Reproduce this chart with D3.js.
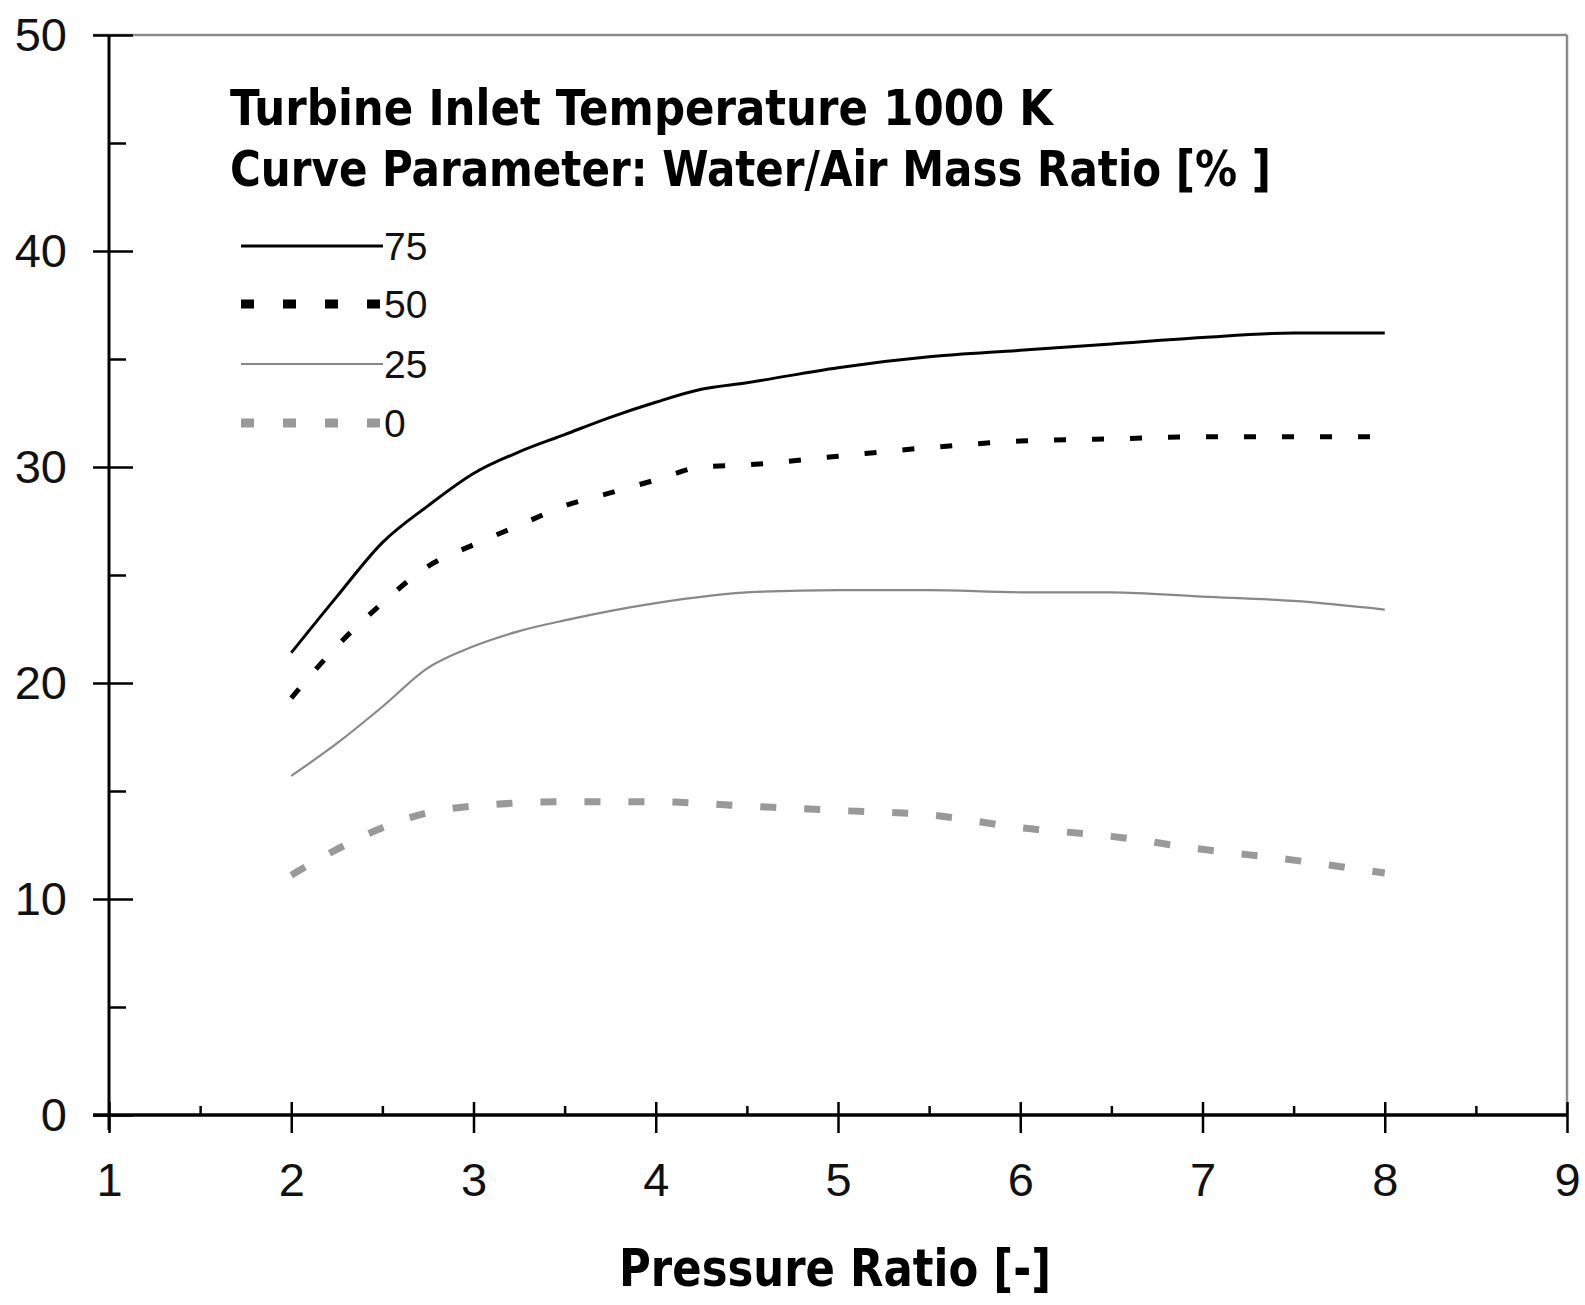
<!DOCTYPE html>
<html>
<head>
<meta charset="utf-8">
<script src="https://cdn.jsdelivr.net/npm/d3@7"></script>
<style>
  html, body { margin: 0; padding: 0; background: #fff; }
  svg { display: block; }
  text { font-family: "Liberation Sans", Arial, sans-serif; }
  .cond { font-family: "Liberation Sans Narrow", "Arial Narrow", "DejaVu Sans Condensed", "Liberation Sans", sans-serif; font-weight: bold; }
</style>
</head>
<body>
<script>
// ---- data ----
const xTicks = [1, 2, 3, 4, 5, 6, 7, 8, 9];
const yTicks = [0, 10, 20, 30, 40, 50];
const titleLines = ["Turbine Inlet Temperature 1000 K", "Curve Parameter: Water/Air Mass Ratio [% ]"];
const xTitle = "Pressure Ratio [-]";
const seriesNames = ["75", "50", "25", "0"];

const x75 = [2, 2.25, 2.5, 2.75, 3, 3.25, 3.5, 3.75, 4, 4.25, 4.5, 5, 5.5, 6, 6.5, 7, 7.5, 8];
const y75 = [21.4, 24.0, 26.5, 28.2, 29.7, 30.7, 31.5, 32.3, 33.0, 33.6, 33.9, 34.6, 35.1, 35.4, 35.7, 36.0, 36.2, 36.2];

const x50 = [2, 2.25, 2.5, 2.75, 3, 3.25, 3.5, 3.75, 4, 4.25, 4.5, 5, 5.5, 6, 6.5, 7, 8];
const y50 = [19.3, 21.7, 23.7, 25.4, 26.4, 27.3, 28.2, 28.8, 29.4, 30.0, 30.1, 30.5, 30.9, 31.2, 31.3, 31.4, 31.4];

const x25 = [2, 2.25, 2.5, 2.75, 3, 3.25, 3.5, 4, 4.5, 5, 5.5, 6, 6.5, 7, 7.5, 8];
const y25 = [15.7, 17.2, 18.9, 20.7, 21.7, 22.4, 22.9, 23.7, 24.2, 24.3, 24.3, 24.2, 24.2, 24.0, 23.8, 23.4];

const x0 = [2, 2.25, 2.5, 2.75, 3, 3.5, 4, 4.5, 5, 5.5, 6, 6.5, 7, 7.5, 8];
const y0 = [11.1, 12.3, 13.3, 14.0, 14.3, 14.5, 14.5, 14.3, 14.1, 13.9, 13.3, 12.9, 12.3, 11.8, 11.2];

// ---- layout ----
const W = 1585, H = 1305;
const mLeft = 109, mRight = 1567, mTop = 35, mBottom = 1115;

const svg = d3.select("body").append("svg").attr("width", W).attr("height", H);

const x = d3.scaleLinear().domain([1, 9]).range([mLeft, mRight]);
const y = d3.scaleLinear().domain([0, 50]).range([mBottom, mTop]);

// frame (top & right, gray)
svg.append("line").attr("x1", 93).attr("x2", mRight).attr("y1", mTop).attr("y2", mTop)
  .attr("stroke", "#8a8a8a").attr("stroke-width", 2.5);
svg.append("line").attr("x1", mRight).attr("x2", mRight).attr("y1", mTop).attr("y2", mBottom)
  .attr("stroke", "#8a8a8a").attr("stroke-width", 2.5);

// y axis: outer ticks with labels
const yAxisG = svg.append("g").attr("transform", `translate(${mLeft},0)`)
  .call(d3.axisLeft(y).tickValues(yTicks).tickSize(16).tickPadding(26).tickFormat(d3.format("d")));
yAxisG.select(".domain").remove();
yAxisG.selectAll("line").attr("stroke", "#000").attr("stroke-width", 2.5);
yAxisG.selectAll("text").attr("font-size", 47).attr("fill", "#111")
  .attr("font-family", "'Liberation Sans', Arial, sans-serif");

// y inner ticks (major + minor)
const yInner = svg.append("g").attr("transform", `translate(${mLeft},0)`)
  .call(d3.axisRight(y).tickValues(yTicks).tickSize(24).tickFormat(""));
yInner.select(".domain").remove();
yInner.selectAll("line").attr("stroke", "#000").attr("stroke-width", 2.5);
const yMinor = svg.append("g").attr("transform", `translate(${mLeft},0)`)
  .call(d3.axisRight(y).tickValues([5, 15, 25, 35, 45]).tickSize(17).tickFormat(""));
yMinor.select(".domain").remove();
yMinor.selectAll("line").attr("stroke", "#000").attr("stroke-width", 2.5);

// y axis line
svg.append("line").attr("x1", mLeft).attr("x2", mLeft).attr("y1", mTop).attr("y2", mBottom + 15)
  .attr("stroke", "#000").attr("stroke-width", 3);

// x axis
const xAxisG = svg.append("g").attr("transform", `translate(0,${mBottom})`)
  .call(d3.axisBottom(x).tickValues(xTicks).tickSize(18).tickPadding(30).tickFormat(d3.format("d")));
xAxisG.select(".domain").remove();
xAxisG.selectAll("line").attr("stroke", "#000").attr("stroke-width", 2.5);
xAxisG.selectAll("text").attr("font-size", 47).attr("fill", "#111")
  .attr("font-family", "'Liberation Sans', Arial, sans-serif");
const xUp = svg.append("g").attr("transform", `translate(0,${mBottom})`)
  .call(d3.axisTop(x).tickValues(xTicks).tickSize(13).tickFormat(""));
xUp.select(".domain").remove();
xUp.selectAll("line").attr("stroke", "#000").attr("stroke-width", 2.5);
const xMinor = svg.append("g").attr("transform", `translate(0,${mBottom})`)
  .call(d3.axisTop(x).tickValues([1.5, 2.5, 3.5, 4.5, 5.5, 6.5, 7.5, 8.5]).tickSize(9).tickFormat(""));
xMinor.select(".domain").remove();
xMinor.selectAll("line").attr("stroke", "#000").attr("stroke-width", 2.5);

svg.append("line").attr("x1", 93).attr("x2", mRight).attr("y1", mBottom).attr("y2", mBottom)
  .attr("stroke", "#000").attr("stroke-width", 3.5);

// series
const line = d3.line().x(d => x(d[0])).y(d => y(d[1])).curve(d3.curveMonotoneX);
const styles = {
  "75": { stroke: "#000", width: 3, dash: null, lw: 3 },
  "50": { stroke: "#000", width: 5, dash: "12,26", lw: 9, ldash: "13,29" },
  "25": { stroke: "#888", width: 2.2, dash: null, lw: 2.2 },
  "0":  { stroke: "#999", width: 7, dash: "16,28", lw: 9, ldash: "13,29" }
};
const data = {
  "75": d3.zip(x75, y75),
  "50": d3.zip(x50, y50),
  "25": d3.zip(x25, y25),
  "0":  d3.zip(x0, y0)
};
["0", "25", "50", "75"].forEach(k => {
  const s = styles[k];
  svg.append("path").datum(data[k]).attr("d", line)
    .attr("fill", "none").attr("stroke", s.stroke).attr("stroke-width", s.width)
    .attr("stroke-dasharray", s.dash);
});

// title
const titleG = svg.append("g");
const titleY = [125, 186];
const titleW = [823, 1041];
titleLines.forEach((t, i) => {
  titleG.append("text").attr("class", "cond").attr("x", 230).attr("y", titleY[i])
    .attr("font-size", 50).attr("fill", "#000")
    .attr("textLength", titleW[i]).attr("lengthAdjust", "spacingAndGlyphs").text(t);
});

// legend
const legY = [246, 304, 364, 423];
seriesNames.forEach((k, i) => {
  const s = styles[k];
  svg.append("line").attr("x1", 241).attr("x2", 383).attr("y1", legY[i]).attr("y2", legY[i])
    .attr("stroke", s.stroke).attr("stroke-width", s.lw)
    .attr("stroke-dasharray", s.ldash || null);
  svg.append("text").attr("x", 384).attr("y", legY[i] + 14)
    .attr("font-size", 39).attr("fill", "#111").text(k);
});

// x title
svg.append("text").attr("class", "cond").attr("x", 619).attr("y", 1286)
  .attr("font-size", 51).attr("fill", "#000")
  .attr("textLength", 432).attr("lengthAdjust", "spacingAndGlyphs").text(xTitle);
</script>
</body>
</html>
